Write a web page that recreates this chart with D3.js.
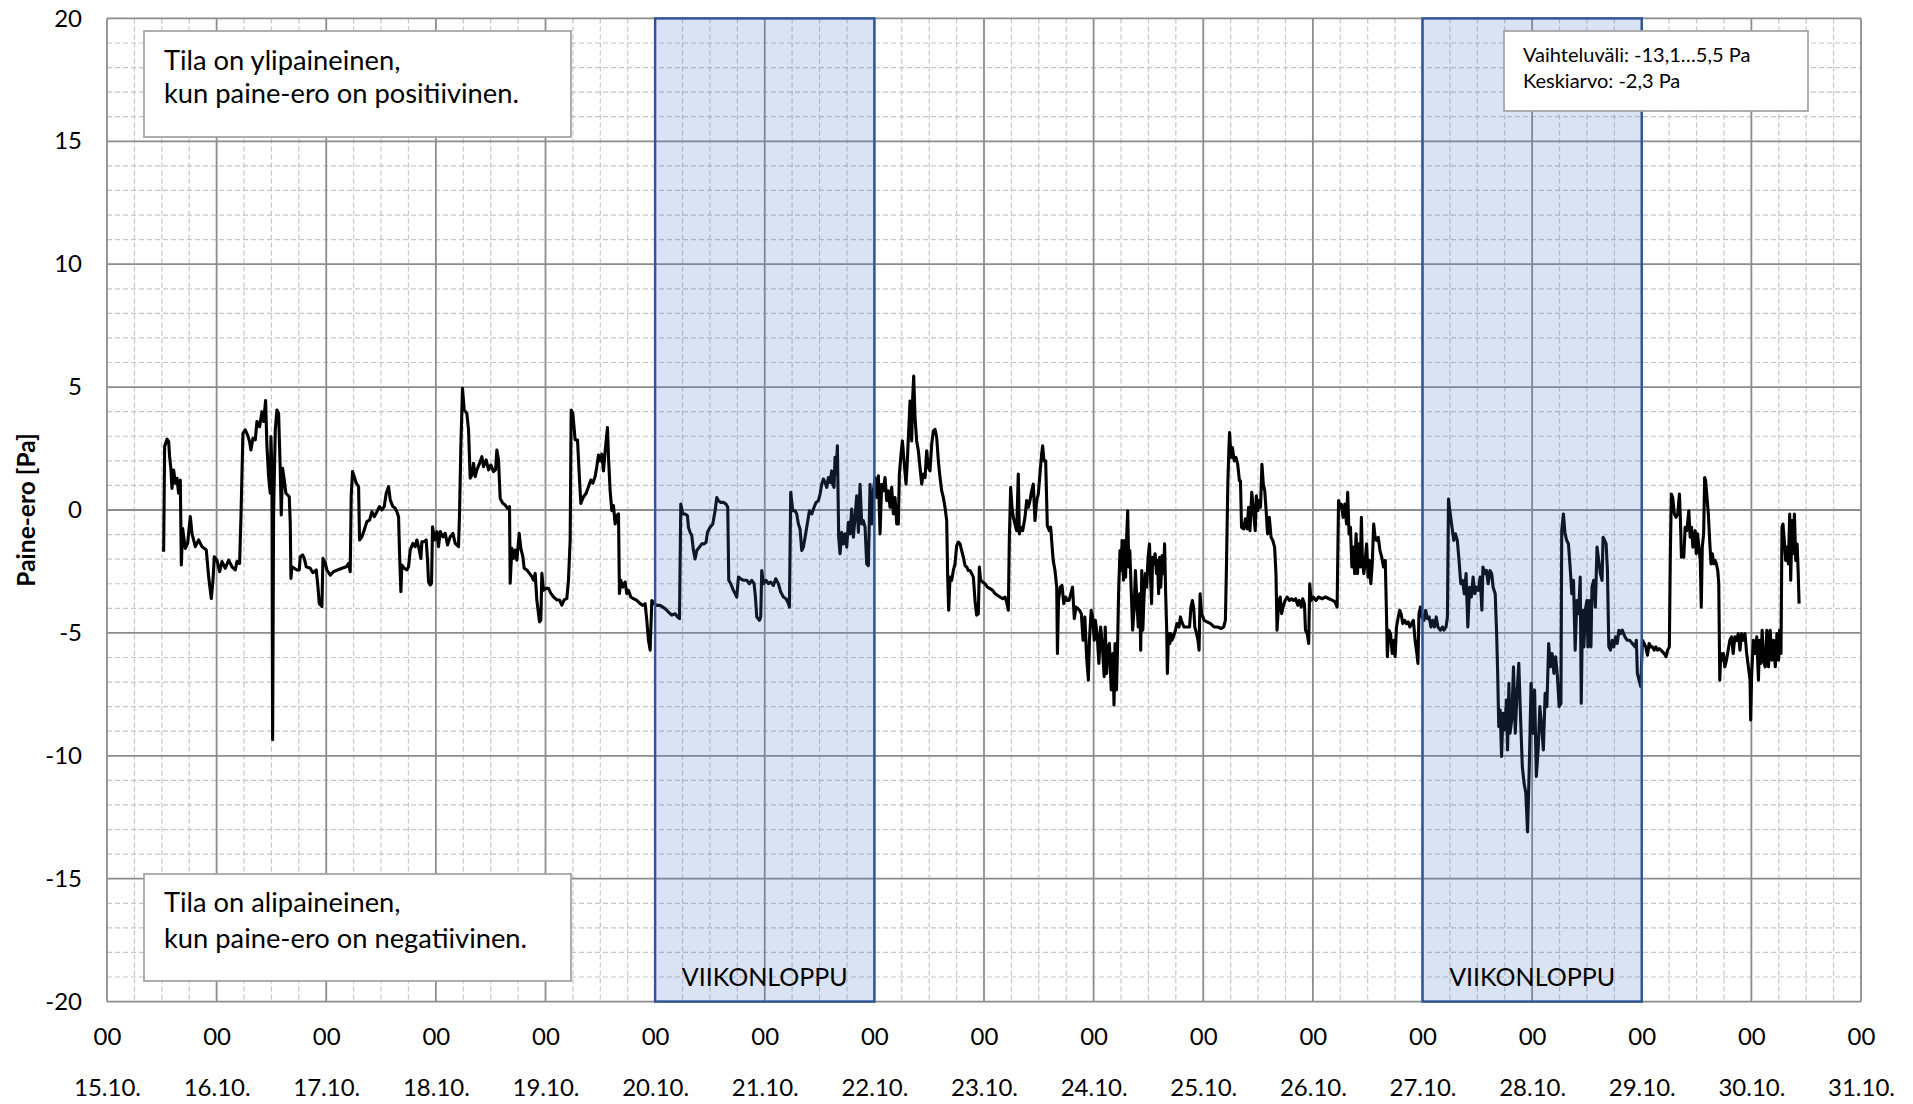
<!DOCTYPE html>
<html>
<head>
<meta charset="utf-8">
<script src="https://cdn.jsdelivr.net/npm/d3@7"></script>
<style>
  html, body { margin: 0; padding: 0; background: #fff; }
  svg { display: block; font-family: Lato, "Open Sans", sans-serif; }
</style>
</head>
<body>
<svg id="chart" width="1913" height="1104"></svg>
<script>
// Day labels along the time axis (one per midnight), and the hour shown above each.
const dayLabels = ["15.10.", "16.10.", "17.10.", "18.10.", "19.10.", "20.10.", "21.10.", "22.10.",
  "23.10.", "24.10.", "25.10.", "26.10.", "27.10.", "28.10.", "29.10.", "30.10.", "31.10."];
const hourLabel = "00";

// Pressure-difference axis ticks [Pa]
const yTicks = [20, 15, 10, 5, 0, -5, -10, -15, -20];

// Weekends, in days counted from 15.10. 00:00
const weekendStart = [5, 12];
const weekendEnd = [7, 14];
const weekendLabel = "VIIKONLOPPU";

// Annotation texts
const topNote = ["Tila on ylipaineinen,", "kun paine-ero on positiivinen."];
const bottomNote = ["Tila on alipaineinen,", "kun paine-ero on negatiivinen."];
const statsNote = ["Vaihteluväli: -13,1…5,5 Pa", "Keskiarvo: -2,3 Pa"];
const yTitle = "Paine-ero [Pa]";

// Measured pressure difference: [hours from 15.10. 00:00, Pa]
const readings = [
  [12.40,-1.7],[12.62,2.58],[13.13,2.88],[13.50,2.78],[13.71,2.17],[14.01,1.63],[14.22,0.88],[14.59,1.63],
  [14.95,1.09],[15.32,1.29],[15.68,0.68],[16.05,1.22],[16.27,-2.24],[16.56,-0.75],[17.14,-1.56],[17.65,-1.36],
  [18.24,-0.27],[18.60,-0.95],[19.33,-1.49],[20.06,-1.22],[20.79,-1.49],[21.74,-1.63],[22.25,-2.71],[22.83,-3.6],
  [23.20,-2.85],[23.49,-1.9],[24.07,-2.04],[24.66,-2.51],[25.17,-2.1],[25.90,-2.37],[26.63,-2.04],[27.36,-2.31],
  [28.08,-2.44],[28.45,-2.1],[29.03,-2.17],[29.33,-0.27],[29.76,3.12],[30.27,3.26],[30.78,3.05],[31.22,2.78],
  [31.51,2.44],[31.95,2.92],[32.46,2.85],[32.83,3.6],[33.41,3.39],[33.92,4.0],[34.29,3.6],[34.72,4.45],
  [35.02,2.58],[35.38,1.36],[35.74,0.68],[35.89,2.99],[36.11,1.49],[36.26,-9.34],[36.47,-0.14],[36.84,3.26],
  [37.20,4.07],[37.57,3.93],[37.93,1.63],[38.15,-0.2],[38.44,1.7],[38.81,1.22],[39.17,0.68],[39.54,0.61],
  [39.90,0.54],[40.12,-0.54],[40.27,-2.78],[40.49,-2.31],[41.00,-2.37],[41.58,-2.44],[42.09,-2.44],[42.31,-1.9],
  [42.82,-1.83],[43.19,-1.97],[43.62,-2.31],[44.50,-2.37],[45.08,-2.55],[45.81,-2.44],[46.18,-3.12],[46.47,-3.8],
  [47.05,-3.93],[47.27,-1.97],[47.78,-2.17],[48.15,-2.44],[48.88,-2.65],[49.60,-2.51],[50.48,-2.44],[51.43,-2.37],
  [52.38,-2.31],[52.89,-2.17],[53.25,-2.51],[53.47,0.61],[53.76,1.56],[54.13,1.36],[54.57,1.09],[55.08,0.95],
  [55.29,-1.22],[55.81,-1.09],[56.32,-0.81],[56.90,-0.47],[57.48,-0.41],[57.99,-0.07],[58.50,-0.27],[59.09,-0.07],
  [59.67,0.14],[60.18,0],[60.69,0.14],[61.13,0.68],[61.64,0.95],[62.01,0.41],[62.59,0.14],[63.10,0.07],
  [63.46,-0.07],[63.83,-0.27],[64.05,-1.76],[64.34,-3.32],[64.56,-2.24],[65.07,-2.37],[65.65,-2.44],[66.02,-2.31],
  [66.38,-1.63],[66.97,-1.36],[67.48,-1.49],[67.84,-1.22],[68.21,-1.49],[68.72,-1.97],[68.94,-1.29],[69.45,-1.29],
  [69.88,-1.22],[70.18,-2.04],[70.39,-2.92],[70.76,-3.05],[71.05,-2.98],[71.27,-0.68],[71.71,-1.22],[72.22,-0.88],
  [72.58,-1.49],[72.95,-0.88],[73.53,-1.09],[74.04,-0.95],[74.55,-1.42],[75.14,-1.09],[75.72,-0.95],[76.23,-1.36],
  [76.96,-1.49],[77.18,-0.14],[77.47,2.58],[77.83,4.95],[78.20,4.07],[78.78,3.93],[79.15,3.26],[79.51,1.29],
  [79.88,1.42],[80.24,1.9],[80.61,1.36],[80.97,1.63],[81.56,1.9],[82.07,2.17],[82.43,1.76],[83.01,2.04],
  [83.53,1.63],[84.04,1.83],[84.62,1.56],[85.06,1.63],[85.35,2.44],[85.71,2.04],[86.08,0.47],[86.66,0.27],
  [87.17,0.2],[87.68,0.07],[88.12,0.14],[88.27,-2.98],[88.63,-1.56],[89.00,-1.97],[89.36,-1.63],[89.73,-2.04],
  [90.24,-0.95],[90.60,-1.56],[91.04,-1.9],[91.33,-2.37],[91.91,-2.44],[92.50,-2.58],[93.01,-2.71],[93.37,-2.85],
  [93.74,-2.58],[94.10,-3.66],[94.69,-4.55],[94.98,-4.48],[95.20,-2.58],[95.56,-3.26],[96.14,-3.19],[96.66,-3.19],
  [97.17,-3.39],[97.75,-3.53],[98.48,-3.66],[99.06,-3.66],[99.57,-3.87],[100.08,-3.66],[100.67,-3.6],[101.03,-2.85],
  [101.40,-1.22],[101.62,4.07],[101.98,3.93],[102.49,2.85],[103.01,2.85],[103.37,1.49],[103.73,0.27],[104.32,0.54],
  [104.90,0.68],[105.41,0.95],[105.92,1.22],[106.36,1.09],[106.87,1.36],[107.23,1.76],[107.60,2.24],[107.96,2.0],
  [108.33,2.27],[108.69,1.59],[109.06,2.4],[109.57,3.35],[109.79,2.14],[110.15,0.78],[110.52,-0.03],[110.88,0.18],
  [111.25,-0.57],[111.61,-0.23],[111.98,-0.16],[112.19,-3.4],[112.49,-2.86],[112.92,-3.14],[113.43,-2.93],[113.80,-3.4],
  [114.16,-3.27],[114.67,-3.54],[115.26,-3.61],[115.99,-3.68],[116.72,-3.81],[117.30,-3.88],[117.81,-3.81],[118.18,-4.49],
  [118.54,-5.3],[118.91,-5.7],[119.27,-3.68],[119.78,-3.81],[120.36,-3.88],[121.09,-3.88],[121.68,-3.95],[122.19,-4.01],
  [122.92,-4.15],[123.65,-4.28],[124.38,-4.22],[124.89,-4.35],[125.33,-4.42],[125.62,0.24],[126.05,-0.16],[126.57,-0.16],
  [127.08,-0.23],[127.29,-0.7],[127.66,-0.91],[128.02,-1.04],[128.39,-1.65],[128.75,-1.99],[129.12,-1.65],[129.70,-1.51],
  [130.21,-1.38],[130.72,-1.38],[131.16,-1.31],[131.45,-0.91],[132.04,-0.7],[132.62,-0.57],[133.13,-0.03],[133.50,0.51],
  [133.86,0.38],[134.37,0.31],[134.95,0.31],[135.54,0.24],[135.90,0.11],[136.12,-2.86],[136.56,-3.0],[137.14,-3.27],
  [137.51,-3.4],[137.87,-3.54],[138.24,-2.73],[138.75,-2.8],[139.33,-2.86],[140.06,-2.86],[140.64,-3.0],[141.15,-2.86],
  [141.67,-3.0],[141.96,-3.54],[142.25,-4.35],[142.83,-4.49],[143.12,-4.35],[143.34,-2.46],[143.71,-3.0],[144.29,-2.86],
  [144.80,-3.0],[145.31,-2.93],[145.90,-3.07],[146.41,-2.8],[146.99,-3.0],[147.50,-3.34],[148.08,-3.54],[148.67,-3.61],
  [149.18,-3.81],[149.40,-3.95],[149.69,0.72],[150.13,-0.03],[150.64,-0.03],[151.00,-0.16],[151.37,-0.57],[151.73,-0.77],
  [152.10,-1.65],[152.46,-1.51],[152.83,-1.11],[153.19,-0.7],[153.78,-0.03],[154.29,-0.16],[154.80,0.11],[155.23,0.31],
  [155.74,0.38],[156.11,0.65],[156.47,1.05],[156.84,1.26],[157.20,1.12],[157.57,0.92],[157.93,1.32],[158.30,1.12],
  [158.66,1.59],[158.88,1.05],[159.17,0.92],[159.39,2.14],[159.61,1.46],[159.90,2.61],[160.05,0.65],[160.19,-1.11],
  [160.49,-1.78],[160.85,-0.91],[161.22,-1.38],[161.58,-0.97],[161.95,-1.51],[162.31,-0.5],[162.67,-0.97],[163.04,0.04],
  [163.40,-1.11],[163.77,-0.3],[164.13,0.58],[164.50,-0.91],[164.86,1.05],[165.23,-0.57],[165.59,-0.43],[165.96,-0.7],
  [166.32,-2.19],[166.69,-2.26],[167.05,1.05],[167.42,-0.57],[167.78,0.78],[168.15,1.32],[168.51,0.51],[168.88,1.39],
  [169.24,-0.97],[169.60,1.05],[169.97,0.78],[170.33,1.32],[170.70,0.38],[171.06,0.78],[171.43,0.11],[171.79,0.92],
  [172.16,-0.16],[172.52,0.51],[172.89,-0.57],[173.25,-0.57],[173.47,1.46],[173.84,2.27],[174.13,2.81],[174.49,2.0],
  [174.93,1.05],[175.22,2.0],[175.51,3.22],[175.81,4.43],[176.17,2.81],[176.39,4.57],[176.61,5.45],[176.90,3.76],
  [177.26,2.81],[177.63,2.41],[177.99,1.73],[178.36,1.05],[178.72,1.46],[179.09,1.32],[179.45,2.41],[179.82,1.73],
  [180.18,1.59],[180.55,2.68],[180.91,3.22],[181.28,3.28],[181.64,2.95],[182.01,2.0],[182.37,1.32],[182.74,0.78],
  [183.10,0.51],[183.46,0.11],[183.83,-0.43],[184.05,-2.73],[184.27,-4.08],[184.56,-2.73],[184.92,-2.86],[185.29,-2.46],
  [185.65,-2.19],[186.02,-1.45],[186.38,-1.31],[186.75,-1.38],[187.11,-1.65],[187.48,-1.92],[187.84,-2.26],[188.21,-2.32],
  [188.57,-2.46],[188.94,-2.46],[189.30,-2.59],[189.67,-2.73],[190.03,-3.68],[190.39,-4.28],[190.76,-4.22],[190.98,-2.32],
  [191.27,-2.86],[191.71,-2.93],[192.22,-3.0],[192.73,-3.14],[193.31,-3.2],[193.90,-3.27],[194.41,-3.4],[194.92,-3.47],
  [195.50,-3.54],[196.08,-3.61],[196.60,-3.54],[196.96,-3.74],[197.33,-4.08],[197.54,-1.24],[197.84,0.92],[198.13,0.11],
  [198.42,-0.3],[198.78,-0.57],[199.15,-0.84],[199.51,1.46],[199.73,-0.97],[200.02,-0.7],[200.46,-0.84],[200.97,-0.3],
  [201.34,0.38],[201.70,0.11],[202.07,0.38],[202.43,0.78],[202.80,1.05],[203.16,-0.43],[203.53,0.38],[203.89,0.65],
  [204.25,1.46],[204.62,2.27],[204.84,2.61],[205.13,2.0],[205.50,2.0],[205.86,-0.64],[206.30,-0.84],[206.59,-0.7],
  [207.15,-2.05],[207.54,-2.46],[207.92,-3.14],[208.08,-5.84],[208.31,-3.68],[208.69,-3.14],[209.08,-3.07],[209.46,-3.81],
  [209.85,-3.54],[210.23,-3.68],[210.62,-3.68],[211.00,-3.41],[211.38,-3.14],[211.77,-4.42],[212.15,-3.95],[212.54,-4.01],
  [212.92,-4.08],[213.31,-4.22],[213.69,-5.3],[214.08,-4.35],[214.46,-5.97],[214.85,-6.92],[215.08,-5.3],[215.46,-4.08],
  [215.77,-4.35],[216.15,-5.3],[216.38,-4.49],[216.77,-5.03],[217.15,-6.24],[217.54,-4.76],[217.92,-5.57],[218.31,-6.78],
  [218.54,-4.76],[218.85,-6.65],[219.15,-5.57],[219.46,-5.43],[219.85,-7.32],[220.23,-5.84],[220.46,-7.93],[220.69,-5.43],
  [221.00,-7.32],[221.23,-5.7],[221.46,-3.41],[221.77,-1.65],[222.00,-2.46],[222.23,-1.24],[222.54,-2.86],[222.77,-1.24],
  [223.00,-2.73],[223.23,-1.11],[223.46,-0.03],[223.69,-2.32],[223.92,-1.65],[224.23,-3.27],[224.54,-4.89],[224.85,-4.08],
  [225.15,-2.46],[225.46,-3.68],[225.77,-4.76],[226.08,-3.41],[226.31,-5.7],[226.54,-2.46],[226.77,-4.89],[227.00,-3.68],
  [227.31,-2.59],[227.62,-3.14],[227.92,-1.92],[228.23,-1.38],[228.46,-2.73],[228.69,-3.81],[228.92,-1.92],[229.23,-2.19],
  [229.46,-1.78],[229.77,-2.59],[230.00,-2.05],[230.23,-3.41],[230.46,-1.92],[230.69,-3.14],[231.00,-1.85],[231.31,-2.59],
  [231.54,-1.38],[231.77,-3.41],[232.00,-4.89],[232.15,-6.65],[232.38,-5.03],[232.69,-5.43],[232.92,-5.03],[233.15,-5.3],
  [233.46,-5.16],[233.92,-4.89],[234.23,-4.62],[234.69,-4.76],[235.00,-4.35],[235.31,-4.55],[235.77,-4.76],[236.38,-4.76],
  [237.00,-4.76],[237.31,-3.95],[237.62,-3.68],[237.92,-4.01],[238.15,-4.76],[238.54,-5.03],[238.85,-5.3],[239.08,-5.7],
  [239.31,-3.41],[239.62,-4.22],[240.23,-4.49],[240.85,-4.55],[241.62,-4.62],[242.38,-4.76],[243.15,-4.76],[243.92,-4.82],
  [244.46,-4.76],[244.85,-4.49],[245.08,-2.32],[245.38,1.05],[245.62,2.54],[245.77,3.15],[246.08,2.14],[246.38,2.54],
  [246.77,2.0],[247.15,2.14],[247.54,1.86],[247.92,1.19],[248.15,1.19],[248.38,-0.7],[248.85,-0.77],[249.23,-0.36],
  [249.62,-0.77],[249.92,0.11],[250.23,-0.84],[250.62,0.72],[251.00,-0.03],[251.38,-0.84],[251.62,0.58],[251.92,-0.03],
  [252.23,0.38],[252.54,0.11],[252.85,1.86],[253.15,1.05],[253.46,0.78],[253.77,-0.03],[254.08,-0.97],[254.46,-0.3],
  [254.85,-1.11],[255.23,-1.24],[255.62,-1.51],[255.92,-2.59],[256.15,-4.89],[256.54,-3.68],[256.85,-3.54],[257.15,-4.22],
  [257.46,-3.95],[257.92,-3.68],[258.38,-3.54],[258.85,-3.68],[259.31,-3.61],[259.77,-3.68],[260.23,-3.61],[260.69,-3.88],
  [261.00,-3.68],[261.46,-3.95],[261.77,-3.61],[262.15,-3.81],[262.38,-4.89],[262.77,-5.03],[263.08,-5.43],[263.31,-3.0],
  [263.62,-3.68],[264.08,-3.54],[264.69,-3.68],[265.23,-3.54],[266.00,-3.61],[266.77,-3.54],[267.54,-3.61],[268.31,-3.68],
  [268.85,-3.74],[269.31,-3.95],[269.62,0.38],[269.92,0.11],[270.23,0.24],[270.62,-0.3],[271.00,0.24],[271.38,-0.57],
  [271.62,0.72],[271.92,-0.97],[272.23,-0.7],[272.54,-2.32],[272.85,-1.51],[273.15,-2.59],[273.46,-0.97],[273.77,-2.59],
  [274.08,-1.38],[274.38,-2.32],[274.62,-0.3],[274.85,-2.05],[275.15,-2.59],[275.46,-2.05],[275.77,-1.38],[276.08,-2.73],
  [276.38,-2.05],[276.69,-3.0],[277.00,-2.19],[277.31,-0.57],[277.62,-1.11],[277.92,-1.24],[278.31,-1.11],[278.69,-1.65],
  [279.08,-1.92],[279.46,-2.32],[279.85,-2.05],[280.08,-3.95],[280.31,-5.97],[280.62,-4.89],[281.00,-5.03],[281.38,-5.84],
  [281.77,-5.3],[282.00,-5.97],[282.31,-4.76],[282.69,-4.35],[283.00,-4.08],[283.31,-4.22],[283.69,-4.62],[284.08,-4.49],
  [284.46,-4.62],[284.85,-4.55],[285.23,-4.76],[285.62,-4.62],[286.00,-4.49],[286.38,-5.3],[286.77,-5.84],[287.00,-6.24],
  [287.23,-4.22],[287.54,-3.95],[287.92,-4.35],[288.31,-4.49],[288.69,-4.08],[289.08,-4.42],[289.46,-4.35],[289.85,-4.76],
  [290.23,-4.49],[290.62,-4.76],[291.00,-4.35],[291.38,-4.76],[291.92,-4.89],[292.38,-4.76],[292.69,-4.89],[293.15,-4.76],
  [293.46,-4.35],[293.69,0.45],[294.08,-0.16],[294.46,-0.7],[294.85,-1.24],[295.23,-0.97],[295.62,-1.24],[296.00,-2.05],
  [296.38,-3.0],[296.77,-2.86],[297.15,-3.41],[297.54,-2.59],[297.92,-4.76],[298.31,-3.14],[298.69,-3.54],[299.08,-2.73],
  [299.46,-3.41],[299.85,-3.14],[300.23,-3.27],[300.62,-2.73],[301.00,-4.08],[301.23,-2.32],[301.62,-2.59],[302.00,-2.46],
  [302.38,-3.0],[302.77,-2.46],[303.15,-2.59],[303.46,-3.14],[303.92,-3.41],[304.23,-5.03],[304.46,-6.65],[304.69,-8.81],
  [305.00,-8.14],[305.31,-10.03],[305.62,-8.27],[306.00,-8.95],[306.38,-7.73],[306.62,-9.76],[306.92,-7.05],[307.15,-9.08],
  [307.54,-8.54],[307.92,-6.38],[308.31,-9.08],[308.69,-7.46],[309.08,-6.24],[309.46,-8.41],[309.85,-10.43],[310.23,-11.11],
  [310.62,-11.51],[311.00,-13.1],[311.38,-10.43],[311.77,-7.05],[312.15,-9.08],[312.54,-7.32],[312.92,-10.84],[313.31,-9.76],
  [313.69,-8.0],[314.08,-8.81],[314.46,-9.76],[314.85,-7.46],[315.23,-8.0],[315.62,-5.43],[316.00,-6.38],[316.38,-5.84],
  [316.77,-6.65],[317.15,-5.97],[317.54,-6.78],[317.92,-8.0],[318.31,-7.86],[318.48,-0.84],[318.85,-0.16],[319.21,-0.97],
  [319.58,-1.24],[319.95,-1.38],[320.32,-2.32],[320.69,-3.41],[321.06,-2.86],[321.42,-5.7],[321.79,-3.68],[322.16,-4.22],
  [322.53,-2.73],[322.75,-7.86],[323.04,-4.08],[323.34,-5.57],[323.63,-4.08],[324.00,-3.68],[324.22,-5.57],[324.52,-3.68],
  [324.88,-5.57],[325.10,-3.14],[325.47,-2.86],[325.84,-3.95],[326.21,-1.51],[326.58,-2.05],[326.94,-2.59],[327.31,-2.86],
  [327.53,-1.11],[327.90,-1.24],[328.20,-1.38],[328.49,-2.46],[328.79,-5.57],[329.15,-5.7],[329.52,-5.3],[329.89,-5.57],
  [330.26,-5.16],[330.63,-5.43],[331.00,-4.89],[331.36,-5.03],[331.73,-4.89],[332.32,-5.16],[332.83,-5.3],[333.35,-5.3],
  [333.94,-5.43],[334.53,-5.57],[334.82,-5.3],[335.04,-6.65],[335.41,-6.92],[335.78,-7.19],[336.15,-5.3],[336.52,-5.43],
  [336.88,-5.57],[337.25,-5.91],[337.62,-5.43],[337.99,-5.57],[338.36,-5.57],[338.72,-5.7],[339.09,-5.57],[339.46,-5.7],
  [339.83,-5.64],[340.20,-5.7],[340.56,-5.77],[340.93,-5.84],[341.30,-5.97],[341.67,-5.7],[342.04,-5.57],[342.26,-1.78],
  [342.48,0.65],[342.77,0.51],[343.14,-0.16],[343.51,-0.3],[343.88,-0.16],[344.25,0.65],[344.47,-0.43],[344.69,-1.92],
  [344.98,-1.78],[345.20,-1.92],[345.50,-0.7],[345.86,-0.84],[346.09,-0.43],[346.31,-0.03],[346.60,-1.11],[346.90,-0.7],
  [347.19,-1.51],[347.41,-1.11],[347.71,-0.84],[347.93,-1.78],[348.22,-0.97],[348.52,-1.51],[348.81,-2.05],[349.03,-3.95],
  [349.25,-1.51],[349.55,-0.97],[349.77,1.32],[349.99,1.19],[350.28,0.51],[350.58,-0.16],[350.87,-1.24],[351.17,-2.19],
  [351.46,-1.78],[351.75,-2.19],[352.05,-2.05],[352.34,-2.19],[352.64,-2.46],[352.86,-3.0],[353.08,-6.92],[353.30,-5.84],
  [353.60,-6.11],[353.89,-5.84],[354.18,-6.38],[354.55,-6.11],[354.92,-5.7],[355.29,-5.3],[355.66,-5.16],[356.02,-5.84],
  [356.39,-5.16],[356.76,-5.3],[357.13,-5.03],[357.50,-5.7],[357.86,-5.03],[358.23,-5.3],[358.60,-5.03],[358.97,-5.84],
  [359.34,-6.38],[359.71,-6.92],[359.85,-8.54],[360.07,-6.65],[360.44,-5.3],[360.81,-5.84],[361.18,-5.16],[361.55,-6.92],
  [361.77,-5.3],[362.06,-6.24],[362.36,-4.89],[362.65,-6.11],[363.02,-6.38],[363.39,-4.89],[363.75,-6.38],[364.12,-4.89],
  [364.49,-6.11],[364.86,-5.3],[365.23,-6.38],[365.60,-5.03],[365.96,-6.11],[366.18,-4.89],[366.48,-5.84],[366.70,-0.7],
  [366.92,-0.57],[367.21,-1.24],[367.51,-2.05],[367.80,-1.51],[368.10,-2.19],[368.39,-0.16],[368.61,-2.86],[368.91,-0.43],
  [369.13,-1.78],[369.42,-0.16],[369.72,-2.05],[370.01,-1.38],[370.23,-2.46],[370.45,-3.81]
];

// ---- layout ----
const W = 1913, H = 1104;
const plot = { left: 107, right: 1861, top: 18.4, bottom: 1001.6 };
const totalDays = dayLabels.length - 1;

const svg = d3.select("#chart");

const x = d3.scaleLinear().domain([0, totalDays * 24]).range([plot.left, plot.right]);
const y = d3.scaleLinear().domain([-20, 20]).range([plot.bottom, plot.top]);

svg.append("rect").attr("width", W).attr("height", H).attr("fill", "#fff");

// Minor grid: every 6 hours and every 1 Pa (dashed)
const minorX = d3.range(0, totalDays * 24 + 1, 6).filter(h => h % 24 !== 0);
const minorY = d3.range(-20, 21, 1).filter(v => v % 5 !== 0);
const grid = svg.append("g");
grid.selectAll("line.mx").data(minorX).join("line")
  .attr("x1", d => x(d)).attr("x2", d => x(d))
  .attr("y1", plot.top).attr("y2", plot.bottom)
  .attr("stroke", "#c6c6c6").attr("stroke-width", 1.2).attr("stroke-dasharray", "5,3");
grid.selectAll("line.my").data(minorY).join("line")
  .attr("x1", plot.left).attr("x2", plot.right)
  .attr("y1", d => y(d)).attr("y2", d => y(d))
  .attr("stroke", "#c6c6c6").attr("stroke-width", 1.2).attr("stroke-dasharray", "5,3");

// Major grid: every midnight and every 5 Pa
const majorX = d3.range(0, totalDays + 1).map(d => d * 24);
grid.append("g").selectAll("line").data(majorX).join("line")
  .attr("x1", d => x(d)).attr("x2", d => x(d))
  .attr("y1", plot.top).attr("y2", plot.bottom)
  .attr("stroke", "#8c8c8c").attr("stroke-width", 1.8);
grid.append("g").selectAll("line").data(yTicks).join("line")
  .attr("x1", plot.left).attr("x2", plot.right)
  .attr("y1", d => y(d)).attr("y2", d => y(d))
  .attr("stroke", "#8c8c8c").attr("stroke-width", 1.8);

// Pressure-difference curve
const line = d3.line().x(d => x(d[0])).y(d => y(d[1]));
svg.append("path").datum(readings)
  .attr("d", line)
  .attr("fill", "none")
  .attr("stroke", "#000")
  .attr("stroke-width", 3.1)
  .attr("stroke-linejoin", "round");

// Weekend bands (translucent, over the curve)
const weekends = weekendStart.map((s, i) => ({ start: s * 24, end: weekendEnd[i] * 24 }));
const wk = svg.append("g");
wk.selectAll("rect").data(weekends).join("rect")
  .attr("x", d => x(d.start)).attr("y", plot.top)
  .attr("width", d => x(d.end) - x(d.start)).attr("height", plot.bottom - plot.top)
  .attr("fill", "rgba(68,114,196,0.2)")
  .attr("stroke", "#2f5597").attr("stroke-width", 2.4);
wk.selectAll("text").data(weekends).join("text")
  .attr("x", d => (x(d.start) + x(d.end)) / 2).attr("y", 986)
  .attr("text-anchor", "middle")
  .attr("font-size", 25).attr("fill", "#000")
  .text(weekendLabel);

// Axes
const yAxis = d3.axisLeft(y).tickValues(yTicks).tickSize(0).tickPadding(0).tickFormat(d => String(d));
const ya = svg.append("g").attr("transform", "translate(82,0)").call(yAxis);
ya.select(".domain").remove();
ya.selectAll("text").attr("font-size", 24).attr("fill", "#000").attr("font-family", "Lato, sans-serif");

const xHour = d3.axisBottom(x).tickValues(majorX).tickSize(0).tickPadding(0).tickFormat(() => hourLabel);
const xa1 = svg.append("g").attr("transform", "translate(0,1037)").call(xHour);
xa1.select(".domain").remove();
xa1.selectAll("text").attr("dy", "0.35em").attr("font-size", 24).attr("fill", "#000").attr("font-family", "Lato, sans-serif");

const xDay = d3.axisBottom(x).tickValues(majorX).tickSize(0).tickPadding(0).tickFormat((d, i) => dayLabels[i]);
const xa2 = svg.append("g").attr("transform", "translate(0,1088)").call(xDay);
xa2.select(".domain").remove();
xa2.selectAll("text").attr("dy", "0.35em").attr("font-size", 24).attr("fill", "#000").attr("font-family", "Lato, sans-serif");

// Y-axis title
svg.append("text")
  .attr("transform", "translate(25,510) rotate(-90)")
  .attr("text-anchor", "middle").attr("dominant-baseline", "central")
  .attr("font-size", 24.5).attr("font-weight", "bold").attr("fill", "#000")
  .text(yTitle);

// Annotation boxes
function noteBox(bx, by, bw, bh, lines, tx, firstBase, lineGap, size) {
  const g = svg.append("g");
  g.append("rect").attr("x", bx).attr("y", by).attr("width", bw).attr("height", bh)
    .attr("fill", "#fff").attr("stroke", "#a6a6a6").attr("stroke-width", 1.8);
  g.selectAll("text").data(lines).join("text")
    .attr("x", tx).attr("y", (d, i) => firstBase + i * lineGap)
    .attr("font-size", size).attr("fill", "#000")
    .text(d => d);
}
noteBox(144, 31, 427, 106, topNote, 164, 70, 33, 27.3);
noteBox(144, 874, 427, 107, bottomNote, 164, 912, 36, 27.3);
noteBox(1504, 31, 304, 80, statsNote, 1523, 62, 25.5, 20);
</script>
</body>
</html>
